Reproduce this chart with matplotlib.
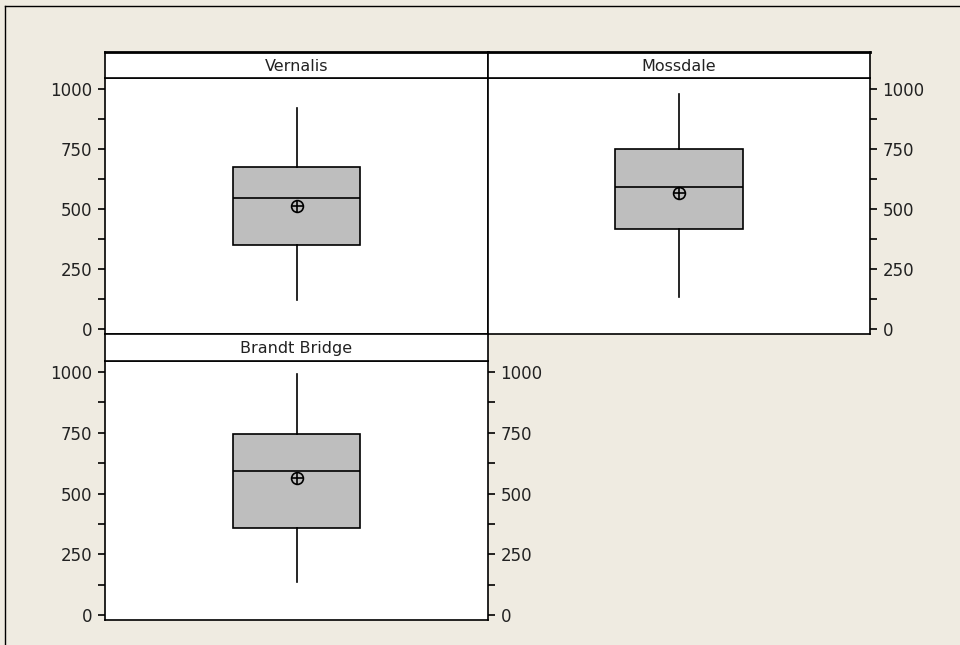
import matplotlib.pyplot as plt
from matplotlib.lines import Line2D
from matplotlib.ticker import MultipleLocator

sites = ["Vernalis", "Mossdale", "Brandt Bridge"]
whisker_low = [120, 132, 136]
q1 = [351, 417, 360]
median = [545, 591, 591]
q3 = [673, 748, 744]
whisker_high = [921, 979, 992]
means = [512, 566, 562]
yticks = [0, 250, 500, 750, 1000]

W, H = 960, 645
bg = "#EFEBE1"

fig = plt.figure(figsize=(W / 100, H / 100), dpi=100)
fig.patch.set_facecolor(bg)
plt.rcParams['font.family'] = ['DejaVu Sans']

# outer frame (top and left edges only visible)
fig.add_artist(Line2D([5 / W, 5 / W], [0, 1 - 6 / H], color="black", lw=1))
fig.add_artist(Line2D([5 / W, 1], [1 - 6 / H, 1 - 6 / H], color="black", lw=1))

# panel boxes in pixels: left, right, top(strip top), strip bottom, bottom
panels = [
    (105, 488, 52, 78, 334, "left"),
    (488, 870, 52, 78, 334, "right"),
    (105, 488, 334, 361, 620, "both"),
]

for i, (l, r, st, sb, b, side) in enumerate(panels):
    ax = fig.add_axes([l / W, 1 - b / H, (r - l) / W, (b - sb) / H])
    strip = fig.add_axes([l / W, 1 - sb / H, (r - l) / W, (sb - st) / H])
    strip.set_xticks([])
    strip.set_yticks([])
    strip.text(0.5, 0.45, sites[i], ha="center", va="center", fontsize=11.5,
               color="#222222")
    for s in strip.spines.values():
        s.set_linewidth(1.2)
    if i < 2:
        strip.spines["top"].set_linewidth(2)

    stats = [dict(whislo=whisker_low[i], q1=q1[i], med=median[i], q3=q3[i],
                  whishi=whisker_high[i], mean=means[i], fliers=[])]
    ax.bxp(stats, positions=[0], widths=[0.334], showmeans=False, showcaps=False,
           patch_artist=True,
           boxprops=dict(facecolor="#BEBEBE", edgecolor="black", linewidth=1.2),
           medianprops=dict(color="black", linewidth=1.2),
           whiskerprops=dict(color="black", linewidth=1.2))
    ax.plot([0], [means[i]], marker="o", ms=8.5, mfc="none", mec="black", mew=1.2)
    ax.plot([0], [means[i]], marker="+", ms=8.5, mec="black", mew=1.2)
    ax.set_xlim(-0.5, 0.5)
    ax.set_ylim(-20, 1045)
    ax.set_xticks([])
    ax.set_yticks(yticks)
    ax.yaxis.set_minor_locator(MultipleLocator(125))
    for s in ax.spines.values():
        s.set_linewidth(1.2)
    left = side in ("left", "both")
    right = side in ("right", "both")
    ax.tick_params(axis="y", which="both", direction="out", length=5, width=1.2,
                   left=left, labelleft=left, right=right, labelright=right,
                   labelsize=12, labelcolor="#222222", pad=4)

fig.savefig("out.png", dpi=100, facecolor=bg)
